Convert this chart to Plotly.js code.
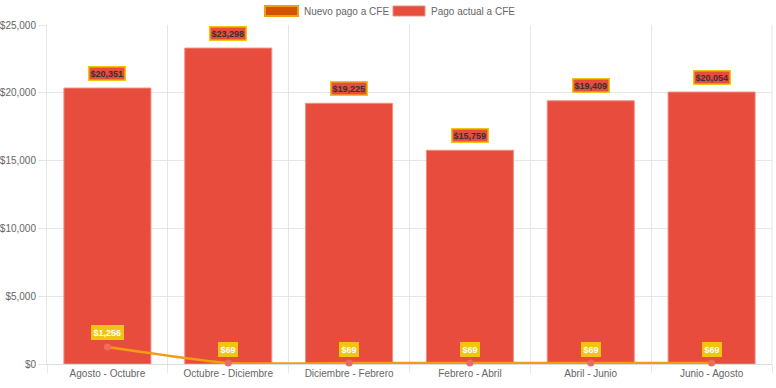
<!DOCTYPE html>
<html>
<head>
<meta charset="utf-8">
<script src="https://cdn.plot.ly/plotly-3.0.1.min.js"></script>
<style>
html,body{margin:0;padding:0;background:#fff;}
#chart{width:776px;height:388px;}
</style>
</head>
<body>
<div id="chart"></div>
<script>
const categories = ["Agosto - Octubre","Octubre - Diciembre","Diciembre - Febrero","Febrero - Abril","Abril - Junio","Junio - Agosto"];
const pagoActual = [20351, 23298, 19225, 15759, 19409, 20054];
const nuevoPago = [1256, 69, 69, 69, 69, 69];
const seriesNames = ["Nuevo pago a CFE", "Pago actual a CFE"];

function fmt(v){ return "$" + v.toLocaleString("en-US"); }

const font = "Liberation Sans, Arial, sans-serif";
const W = 776, H = 388, ML = 47, MR = 4, MT = 25, MB = 24;
const PW = W - ML - MR, PH = H - MT - MB;
function px(x){ return (x - ML) / PW; }
function py(y){ return (H - MB - y) / PH; }

const traces = [
  {
    type: "bar", name: seriesNames[1], x: categories, y: pagoActual,
    marker: {color: "#E74C3C", line: {color: "#f28b80", width: 1}},
    showlegend: false
  },
  {
    type: "scatter", mode: "lines+markers", name: seriesNames[0],
    x: categories, y: nuevoPago, cliponaxis: false,
    line: {color: "#F39C12", width: 2.5, shape: "spline", smoothing: 0.5},
    marker: {color: "#F06A5E", size: 7},
    showlegend: false
  }
];

const annotations = [];
categories.forEach((c, i) => {
  annotations.push({
    x: c, y: pagoActual[i], xref: "x", yref: "y",
    text: "<b>" + fmt(pagoActual[i]) + "</b>", showarrow: false,
    yshift: 15, font: {family: font, size: 9, color: "#333"},
    bgcolor: "#E74C3C", bordercolor: "#F1C40F", borderwidth: 1.5, borderpad: 1
  });
  annotations.push({
    x: c, y: nuevoPago[i], xref: "x", yref: "y",
    text: "<b>" + fmt(nuevoPago[i]) + "</b>", showarrow: false,
    yshift: 14, font: {family: font, size: 9, color: "#fff"},
    bgcolor: "#F1C40F", bordercolor: "#F1C40F", borderwidth: 1.5, borderpad: 1
  });
});
// custom legend texts
annotations.push({xref: "paper", yref: "paper", x: px(302), y: py(11), xanchor: "left", yanchor: "middle",
  text: seriesNames[0], showarrow: false, font: {family: font, size: 10, color: "#666"}});
annotations.push({xref: "paper", yref: "paper", x: px(429), y: py(11), xanchor: "left", yanchor: "middle",
  text: seriesNames[1], showarrow: false, font: {family: font, size: 10, color: "#666"}});

const layout = {
  width: W, height: H,
  margin: {l: ML, r: MR, t: MT, b: MB},
  paper_bgcolor: "#fff", plot_bgcolor: "#fff",
  font: {family: font, size: 10, color: "#666"},
  barmode: "overlay",
  bargap: 0.28,
  showlegend: false,
  xaxis: {
    type: "category", tickson: "boundaries", showgrid: true, gridcolor: "#e6e6e6",
    ticks: "outside", ticklen: 8, tickcolor: "#e6e6e6",
    showline: true, linecolor: "#dcdcdc", layer: "below traces",
    tickfont: {family: font, size: 10, color: "#666"},
    zeroline: false
  },
  yaxis: {
    range: [0, 25000], dtick: 5000, tickprefix: "$", tickformat: ",d",
    showgrid: true, gridcolor: "#e6e6e6",
    ticks: "outside", ticklen: 8, tickcolor: "#e6e6e6",
    showline: true, linecolor: "#e6e6e6", layer: "below traces",
    tickfont: {family: font, size: 10, color: "#666"},
    zeroline: false
  },
  shapes: [
    {type: "line", xref: "paper", yref: "paper", x0: 1, x1: 1, y0: 0, y1: 1, layer: "below", line: {color: "#e6e6e6", width: 1}},
    {type: "rect", xref: "paper", yref: "paper", x0: px(265), x1: px(298), y0: py(16), y1: py(6),
      fillcolor: "#D35400", line: {color: "#F39C12", width: 2}},
    {type: "rect", xref: "paper", yref: "paper", x0: px(393), x1: px(425), y0: py(16), y1: py(6),
      fillcolor: "#E74C3C", line: {color: "#f28b80", width: 1}}
  ],
  annotations: annotations
};

Plotly.newPlot("chart", traces, layout, {displayModeBar: false, staticPlot: true});
</script>
</body>
</html>
